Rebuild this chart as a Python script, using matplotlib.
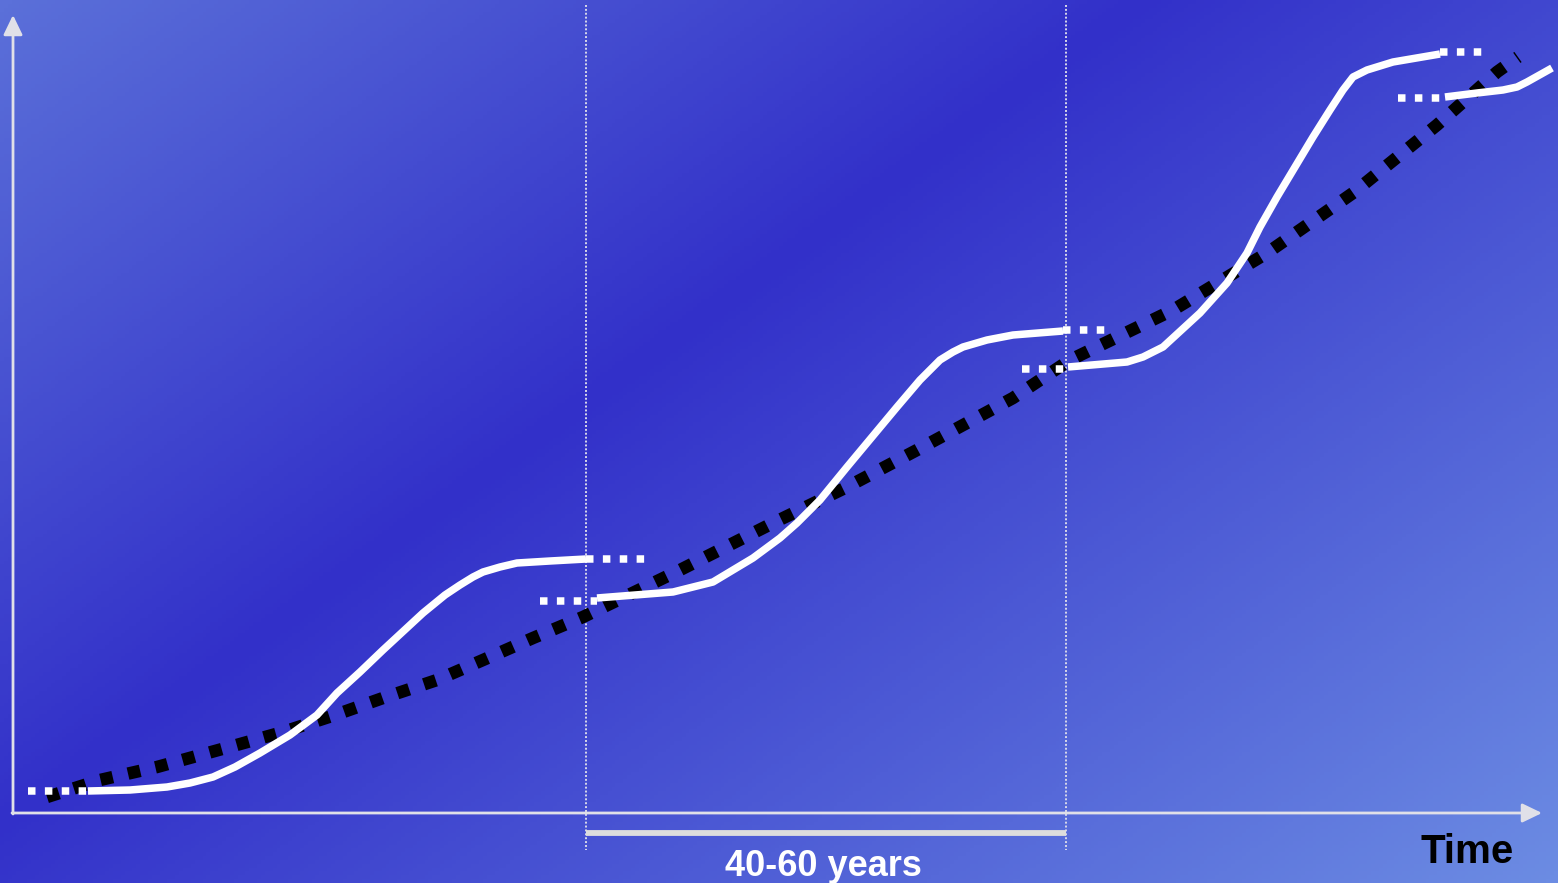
import numpy as np
import matplotlib
matplotlib.use('Agg')
import matplotlib.pyplot as plt
from matplotlib.colors import LinearSegmentedColormap
from matplotlib.patches import FancyArrowPatch

W, H = 1558, 883

# trend line (black dotted)
trend_t = [47, 100, 157, 233, 283, 335, 383, 437, 483, 533, 583, 680, 773, 847, 917, 1013, 1070, 1173, 1267, 1353, 1437, 1497, 1518]
trend_v = [797, 780, 767, 746, 732, 715, 698, 680, 660, 638, 617, 570, 523, 487, 450, 398, 360, 310, 253, 193, 125, 72, 57]

# S-curves (white solid)
wave1_t = [88, 130, 167, 190, 213, 235, 260, 290, 317, 337, 360, 383, 423, 445, 460, 473, 483, 500, 517, 550, 586]
wave1_v = [791, 790, 787, 783, 777, 767, 753, 735, 715, 693, 672, 650, 613, 595, 585, 577, 572, 567, 563, 561, 559]
wave2_t = [597, 673, 713, 753, 780, 797, 820, 847, 897, 920, 940, 953, 963, 987, 1013, 1063]
wave2_v = [598, 592, 582, 558, 538, 523, 500, 467, 407, 380, 360, 352, 347, 340, 335, 331]
wave3_t = [1068, 1127, 1143, 1163, 1200, 1227, 1247, 1260, 1277, 1313, 1330, 1343, 1353, 1367, 1393, 1440]
wave3_v = [367, 362, 357, 347, 313, 283, 253, 227, 197, 137, 110, 90, 77, 70, 62, 54]
wave4_t = [1445, 1477, 1503, 1517, 1527, 1552]
wave4_v = [97, 93, 90, 87, 82, 68]

# dotted lead-ins / extensions (start, end, level)
leads = [(28, 88, 791), (586, 650, 559), (540, 597, 601), (1063, 1108, 330),
         (1022, 1066, 369), (1440, 1486, 52), (1398, 1442, 98)]

cycle_edges = [586, 1066]
span_label = '40-60 years'
axis_label = 'Time'

fig = plt.figure(figsize=(W / 100, H / 100), dpi=100)
ax = fig.add_axes([0, 0, 1, 1])
ax.set_xlim(0, W)
ax.set_ylim(H, 0)
ax.axis('off')

# diagonal gradient background
xx, yy = np.meshgrid(np.linspace(0, W, 400), np.linspace(0, H, 230))
t = (xx * 830 + yy * 1150) / (W * 830 + H * 1150)
cmap = LinearSegmentedColormap.from_list('bg', [(0, '#5b70d9'), (0.41, '#3230c9'), (1, '#6c8ce3')])
ax.imshow(t, cmap=cmap, extent=[0, W, H, 0], aspect='auto', vmin=0, vmax=1, zorder=0)

# axes with arrows
ax_col = '#e0e0e8'
for a, b in [((13, 814), (13, 15)), ((12, 813), (1542, 813))]:
    ax.add_patch(FancyArrowPatch(a, b, arrowstyle='-|>,head_length=12,head_width=5.8',
                                 mutation_scale=1, color=ax_col, lw=2, shrinkA=0, shrinkB=0, zorder=2))

# cycle markers
for x in cycle_edges:
    ax.plot([x, x], [5, 850], color='#d8d8ea', lw=1.4, linestyle=(0, (1, 1)), zorder=1)
ax.plot(cycle_edges, [833, 833], color='#dddddd', lw=4.2, solid_capstyle='butt', zorder=2)

# trend
ax.plot(trend_t, trend_v, color='black', lw=9, linestyle=(0, (1, 1.25)), zorder=3)

# waves
for tt, vv in [(wave1_t, wave1_v), (wave2_t, wave2_v), (wave3_t, wave3_v), (wave4_t, wave4_v)]:
    ax.plot(tt, vv, color='white', lw=5.4, solid_joinstyle='round', solid_capstyle='butt', zorder=4)
for a, b, v in leads:
    ax.plot([a, b], [v, v], color='white', lw=5.4, linestyle=(0, (1, 1.25)), zorder=4)

ax.text(823, 876, span_label, ha='center', va='baseline', color='white',
        fontsize=26, fontweight='bold', family='Liberation Sans', zorder=5)
ax.text(1467, 863, axis_label, ha='center', va='baseline', color='black',
        fontsize=29, fontweight='bold', family='Liberation Sans', zorder=5)

plt.savefig('out.png', dpi=100)
